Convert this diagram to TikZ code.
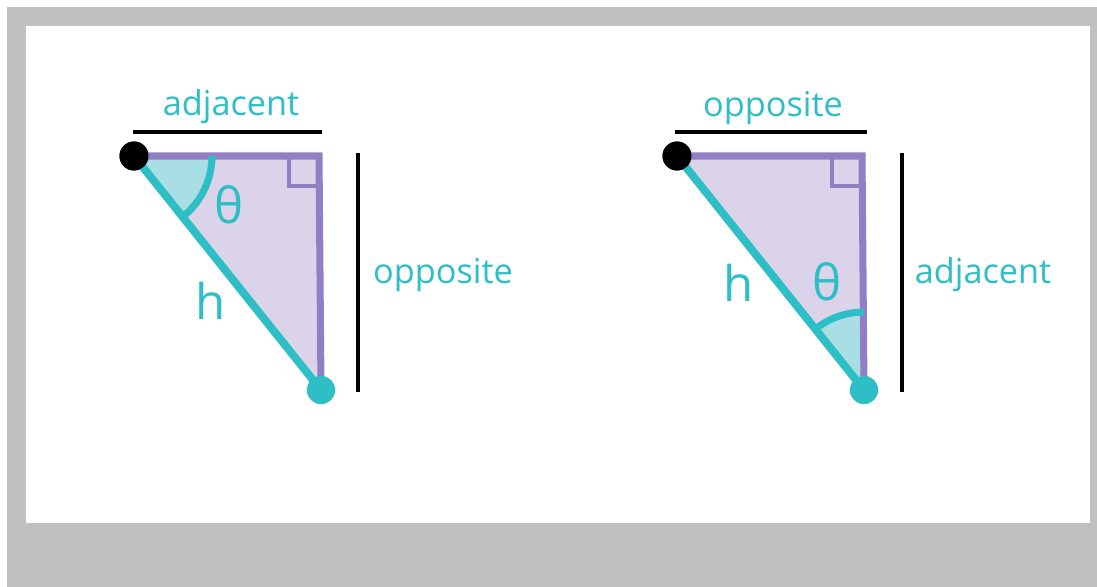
\documentclass[tikz,border=0pt]{standalone}
\usepackage{fontspec}
\setmainfont{Open Sans}
\definecolor{tealc}{RGB}{45,190,198}
\definecolor{tealfill}{RGB}{168,222,228}
\definecolor{purplec}{RGB}{146,126,194}
\definecolor{purplefill}{RGB}{219,211,234}
\definecolor{framec}{RGB}{192,192,192}
\tikzset{
  trifill/.style={fill=purplefill},
  wedgefill/.style={fill=tealfill},
  leg/.style={draw=purplec, line width=4pt},
  hyp/.style={draw=tealc, line width=4.5pt},
  anglearc/.style={draw=tealc, line width=4pt},
  rightmark/.style={draw=purplec, line width=2.1pt},
  bar/.style={draw=black, line width=2.3pt},
  blackdot/.style={circle, fill=black, minimum size=0.58cm, inner sep=0pt},
  tealdot/.style={circle, fill=tealc, minimum size=0.56cm, inner sep=0pt},
  sidelabel/.style={text=tealc, anchor=base, inner sep=0pt, font=\fontsize{19.5pt}{22pt}\selectfont},
  symlabel/.style={text=tealc, anchor=base, inner sep=0pt, font=\fontsize{28pt}{32pt}\selectfont},
}

\begin{document}
\begin{tikzpicture}[x=0.02cm, y=0.02cm]
    \useasboundingbox (0,0) rectangle (1097,-587);
    \fill[white] (0,0) rectangle (1097,-587);
    \fill[framec] (7,-7) rectangle (1097,-587);
    \fill[white] (26,-26) rectangle (1090,-523);

    % left triangle
    \coordinate (lB) at (319,-156);
    \node[blackdot] (lA) at (134,-156) {};
    \node[tealdot] (lC) at (321,-390) {};
    \fill[trifill] (lA.center) -- (lB) -- (lC.center) -- cycle;
    \fill[wedgefill] (lA.center) -- ++(0:1.56cm) arc[start angle=0, end angle=-51.6, radius=1.56cm] -- cycle;
    \draw[rightmark] (289,-156) -- (289,-186) -- (319,-186);
    \draw[leg] (lA.center) -- (lB) -- (lC.center);
    \draw[hyp] (lA.center) -- (lC.center);
    \draw[anglearc] (lA.center) ++(0:1.56cm) arc[start angle=0, end angle=-51.6, radius=1.56cm];
    \node[blackdot] at (lA) {};
    \node[tealdot] at (lC) {};
    \coordinate (ltopL) at (133,-132);
    \coordinate (ltopR) at (322,-132);
    \coordinate (lsideT) at (358,-153);
    \coordinate (lsideB) at (358,-392);
    \draw[bar] (ltopL) -- (ltopR);
    \draw[bar] (lsideT) -- (lsideB);
    \node[sidelabel] (ladj) at (231,-116) {adjacent};
    \node[sidelabel] (lopp) at (443,-283) {opposite};
    \node[symlabel] (lh) at (211,-319) {h};
    \node[symlabel] (ltheta) at (229,-224) {θ};

    % right triangle
    \coordinate (rB) at (862,-156);
    \node[blackdot] (rA) at (677,-156) {};
    \node[tealdot] (rC) at (864,-390) {};
    \fill[trifill] (rA.center) -- (rB) -- (rC.center) -- cycle;
    \fill[wedgefill] (rC.center) -- ++(90:1.56cm) arc[start angle=90, end angle=128.5, radius=1.56cm] -- cycle;
    \draw[rightmark] (832,-156) -- (832,-186) -- (862,-186);
    \draw[leg] (rA.center) -- (rB) -- (rC.center);
    \draw[hyp] (rA.center) -- (rC.center);
    \draw[anglearc] (rC.center) ++(90:1.56cm) arc[start angle=90, end angle=128.5, radius=1.56cm];
    \node[blackdot] at (rA) {};
    \node[tealdot] at (rC) {};
    \coordinate (rtopL) at (675,-132);
    \coordinate (rtopR) at (867,-132);
    \coordinate (rsideT) at (902,-153);
    \coordinate (rsideB) at (902,-392);
    \draw[bar] (rtopL) -- (rtopR);
    \draw[bar] (rsideT) -- (rsideB);
    \node[sidelabel] (ropp) at (773,-117) {opposite};
    \node[sidelabel] (radj) at (983,-283) {adjacent};
    \node[symlabel] (rh) at (739,-301) {h};
    \node[symlabel] (rtheta) at (827,-300) {θ};
\end{tikzpicture}
\end{document}
